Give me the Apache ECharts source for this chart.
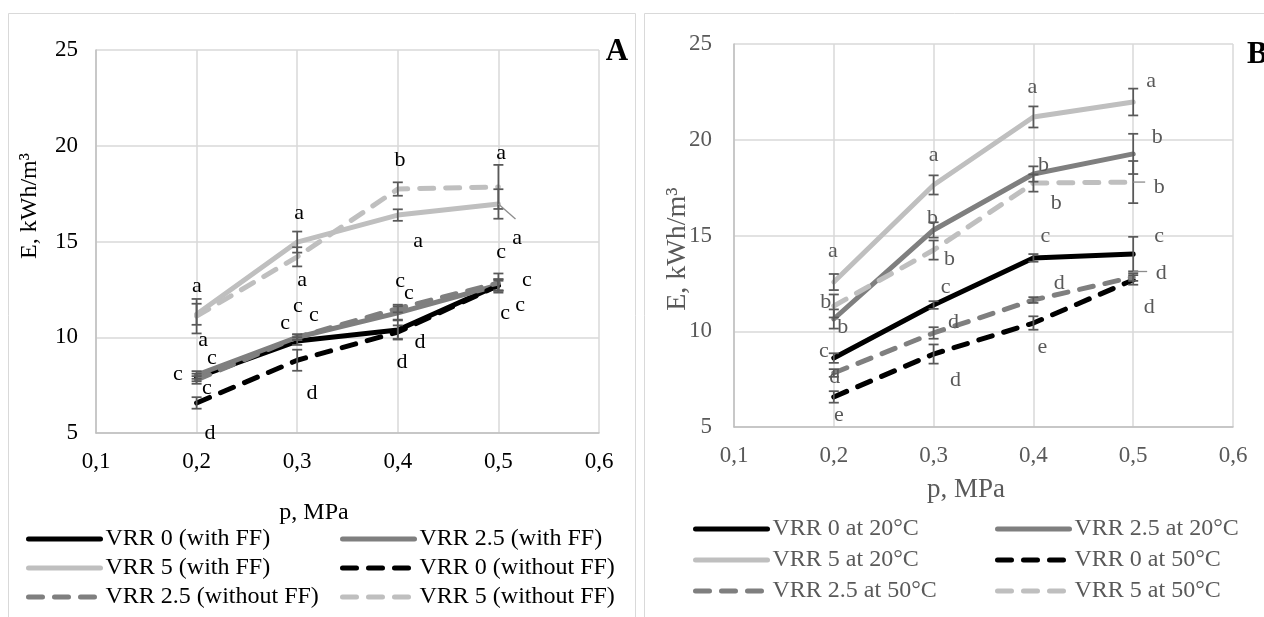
<!DOCTYPE html>
<html><head><meta charset="utf-8">
<script src="https://cdn.jsdelivr.net/npm/echarts@6/dist/echarts.min.js"></script>
<style>html,body{margin:0;padding:0;background:#fff}#c{width:1264px;height:617px}</style>
</head><body><div id="c"></div>
<script>
// ---------- DATA ----------
const pressure = [0.2, 0.3, 0.4, 0.5];
const xTickLabels = ['0,1', '0,2', '0,3', '0,4', '0,5', '0,6'];
const yTickLabels = ['5', '10', '15', '20', '25'];

// Panel A
const A_names = ['VRR 0 (with FF)', 'VRR 2.5 (with FF)', 'VRR 5 (with FF)', 'VRR 0 (without FF)', 'VRR 2.5 (without FF)', 'VRR 5 (without FF)'];
const A_vrr0_ff    = [7.9, 9.8, 10.38, 12.73];
const A_vrr25_ff   = [8.03, 10.0, 11.27, 12.73];
const A_vrr5_ff    = [11.2, 14.97, 16.38, 16.96];
const A_vrr0_noff  = [6.57, 8.8, 10.27, 12.7];
const A_vrr25_noff = [7.77, 10.0, 11.5, 12.83];
const A_vrr5_noff  = [11.1, 14.2, 17.74, 17.85];
const A_err_vrr0_ff    = [0.2, 0.2, 0.5, 0.3];
const A_err_vrr25_ff   = [0.2, 0.15, 0.35, 0.3];
const A_err_vrr5_ff    = [0.55, 0.55, 0.3, 0.77];
const A_err_vrr0_noff  = [0.3, 0.55, 0.35, 0.25];
const A_err_vrr25_noff = [0.2, 0.15, 0.2, 0.5];
const A_err_vrr5_noff  = [0.9, 0.5, 0.35, 1.15];
const A_letters = [
  [0.2004, 12.57, 'a'], [0.2064, 9.75, 'a'], [0.2153, 8.81, 'c'], [0.1815, 7.98, 'c'], [0.2103, 7.25, 'c'], [0.2133, 5.0, 'd'],
  [0.3018, 16.38, 'a'], [0.3048, 12.89, 'a'], [0.2879, 10.64, 'c'], [0.3008, 11.53, 'c'], [0.3167, 11.06, 'c'], [0.3147, 7.09, 'd'],
  [0.4022, 19.26, 'b'], [0.4201, 14.92, 'a'], [0.4022, 12.83, 'c'], [0.4111, 12.21, 'c'], [0.4221, 9.75, 'd'], [0.4042, 8.71, 'd'],
  [0.5026, 19.52, 'a'], [0.5185, 15.08, 'a'], [0.5026, 14.35, 'c'], [0.5284, 12.89, 'c'], [0.5066, 11.16, 'c'], [0.5215, 11.58, 'c']
];
const A_leaders = [[0.5, 16.96, 0.517, 16.17]];

// Panel B
const B_names = ['VRR 0 at 20°C', 'VRR 2.5 at 20°C', 'VRR 5 at 20°C', 'VRR 0 at 50°C', 'VRR 2.5 at 50°C', 'VRR 5 at 50°C'];
const B_vrr0_20  = [8.6, 11.37, 13.83, 14.03];
const B_vrr25_20 = [10.64, 15.29, 18.21, 19.26];
const B_vrr5_20  = [12.57, 17.64, 21.19, 21.97];
const B_vrr0_50  = [6.57, 8.81, 10.43, 12.68];
const B_vrr25_50 = [7.82, 9.91, 11.63, 12.83];
const B_vrr5_50  = [11.32, 14.24, 17.74, 17.79];
const B_err_vrr0_20  = [0.25, 0.2, 0.2, 0.9];
const B_err_vrr25_20 = [0.5, 0.4, 0.4, 1.05];
const B_err_vrr5_20  = [0.42, 0.5, 0.55, 0.7];
const B_err_vrr0_50  = [0.3, 0.5, 0.35, 0.25];
const B_err_vrr25_50 = [0.2, 0.3, 0.15, 0.2];
const B_err_vrr5_50  = [0.6, 0.5, 0.45, 1.1];
const B_letters = [
  [0.399, 22.65, 'a'], [0.518, 22.96, 'a'], [0.300, 19.10, 'a'], [0.524, 20.14, 'b'], [0.410, 18.68, 'b'], [0.526, 17.53, 'b'],
  [0.423, 16.70, 'b'], [0.299, 15.91, 'b'], [0.199, 14.09, 'a'], [0.316, 13.77, 'b'], [0.192, 11.53, 'b'], [0.209, 10.22, 'b'],
  [0.412, 14.87, 'c'], [0.526, 14.87, 'c'], [0.312, 12.21, 'c'], [0.426, 12.52, 'd'], [0.528, 13.04, 'd'], [0.516, 11.27, 'd'],
  [0.320, 10.48, 'd'], [0.190, 8.86, 'c'], [0.201, 7.61, 'd'], [0.322, 7.45, 'd'], [0.409, 9.07, 'e'], [0.205, 5.52, 'e']
];
const B_leaders = [[0.5, 17.79, 0.512, 17.79], [0.5, 13.12, 0.514, 13.12]];

// ---------- STYLE ----------
const FONT = 'Liberation Serif';
const COLORS = ['#000000', '#7f7f7f', '#bfbfbf', '#000000', '#7f7f7f', '#bfbfbf'];
const DASHED = [false, false, false, true, true, true];
const ERR_COLOR = '#595959';

const A_vals = [A_vrr0_ff, A_vrr25_ff, A_vrr5_ff, A_vrr0_noff, A_vrr25_noff, A_vrr5_noff];
const A_errs = [A_err_vrr0_ff, A_err_vrr25_ff, A_err_vrr5_ff, A_err_vrr0_noff, A_err_vrr25_noff, A_err_vrr5_noff];
const B_vals = [B_vrr0_20, B_vrr25_20, B_vrr5_20, B_vrr0_50, B_vrr25_50, B_vrr5_50];
const B_errs = [B_err_vrr0_20, B_err_vrr25_20, B_err_vrr5_20, B_err_vrr0_50, B_err_vrr25_50, B_err_vrr5_50];

function lineSeries(name, vals, i, g) {
  return {
    type: 'line', name: name, xAxisIndex: g, yAxisIndex: g,
    data: pressure.map((p, k) => [p, vals[k]]),
    symbol: 'none', z: 2, animation: false,
    itemStyle: { color: COLORS[i] },
    lineStyle: { color: COLORS[i], width: 5, type: DASHED[i] ? [14, 12] : 'solid', cap: 'round', join: 'round' }
  };
}
function errSeries(vals, errs, g) {
  return {
    type: 'custom', xAxisIndex: g, yAxisIndex: g, z: 3, animation: false, silent: true,
    data: pressure.map((p, k) => [p, vals[k], errs[k]]),
    encode: { x: 0, y: 1 },
    renderItem: function (params, api) {
      const x = api.value(0), y = api.value(1), e = api.value(2);
      const top = api.coord([x, y + e]), bot = api.coord([x, y - e]);
      const st = { stroke: ERR_COLOR, lineWidth: 1.75 };
      const w = 5;
      return { type: 'group', children: [
        { type: 'line', shape: { x1: top[0], y1: top[1], x2: bot[0], y2: bot[1] }, style: st },
        { type: 'line', shape: { x1: top[0] - w, y1: top[1], x2: top[0] + w, y2: top[1] }, style: st },
        { type: 'line', shape: { x1: bot[0] - w, y1: bot[1], x2: bot[0] + w, y2: bot[1] }, style: st }
      ] };
    }
  };
}
function letterSeries(letters, g, color) {
  return {
    type: 'custom', xAxisIndex: g, yAxisIndex: g, z: 5, animation: false, silent: true,
    data: letters.map(l => [l[0], l[1]]),
    encode: { x: 0, y: 1 }, clip: false,
    renderItem: function (params, api) {
      const pt = api.coord([api.value(0), api.value(1)]);
      const t = letters[params.dataIndex][2];
      const dy = ('ace'.indexOf(t) >= 0) ? -2 : 0;
      return { type: 'text', x: pt[0], y: pt[1] + dy,
        style: { text: t, fill: color, font: '22px "' + FONT + '"', align: 'center', verticalAlign: 'middle' } };
    }
  };
}
function leaderSeries(leaders, g) {
  return {
    type: 'custom', xAxisIndex: g, yAxisIndex: g, z: 4, animation: false, silent: true,
    data: leaders, encode: { x: 0, y: 1 }, clip: false,
    renderItem: function (params, api) {
      const a = api.coord([api.value(0), api.value(1)]), b = api.coord([api.value(2), api.value(3)]);
      return { type: 'line', shape: { x1: a[0], y1: a[1], x2: b[0], y2: b[1] }, style: { stroke: '#8c8c8c', lineWidth: 1.3 } };
    }
  };
}
function xAxisCfg(g, color) {
  return {
    type: 'value', gridIndex: g, min: 0.1, max: 0.6, interval: 0.1,
    axisLine: { show: true, onZero: false, lineStyle: { color: '#bfbfbf', width: 1.5 } },
    axisTick: { show: false },
    splitLine: { show: true, lineStyle: { color: '#d9d9d9', width: 1.5 } },
    axisLabel: { fontFamily: FONT, fontSize: 23, color: color, margin: 17,
      formatter: v => xTickLabels[Math.round(v * 10) - 1] }
  };
}
function yAxisCfg(g, color, margin) {
  return {
    type: 'value', gridIndex: g, min: 5, max: 25, interval: 5,
    axisLine: { show: true, lineStyle: { color: '#bfbfbf', width: 1.5 } },
    axisTick: { show: false },
    splitLine: { show: true, lineStyle: { color: '#d9d9d9', width: 1.5 } },
    axisLabel: { fontFamily: FONT, fontSize: 23, color: color, margin: margin,
      formatter: v => yTickLabels[Math.round(v / 5) - 1] }
  };
}
function legendItem(name, left, rowY, color) {
  return {
    data: [name], left: left, top: rowY - 12, orient: 'horizontal', padding: 0, itemGap: 0,
    itemWidth: 72, itemHeight: 14, selectedMode: false,
    textStyle: { fontFamily: FONT, fontSize: 24, color: color },
    itemStyle: { opacity: 0 },
    lineStyle: { width: 5, cap: 'round' }
  };
}

const series = [];
A_names.forEach((n, i) => series.push(lineSeries(n, A_vals[i], i, 0)));
B_names.forEach((n, i) => series.push(lineSeries(n, B_vals[i], i, 1)));
A_vals.forEach((v, i) => series.push(errSeries(v, A_errs[i], 0)));
B_vals.forEach((v, i) => series.push(errSeries(v, B_errs[i], 1)));
series.push(leaderSeries(A_leaders, 0));
series.push(leaderSeries(B_leaders, 1));
series.push(letterSeries(A_letters, 0, '#000000'));
series.push(letterSeries(B_letters, 1, '#595959'));

const A_rows = [539, 568, 597], B_rows = [529, 560, 591];
const legends = [];
A_names.forEach((n, i) => legends.push(legendItem(n, i % 2 === 0 ? 26 : 340, A_rows[Math.floor(i / 2)], '#000000')));
B_names.forEach((n, i) => legends.push(legendItem(n, i % 2 === 0 ? 693 : 995, B_rows[Math.floor(i / 2)], '#595959')));

const option = {
  backgroundColor: '#ffffff',
  animation: false,
  grid: [
    { left: 96, top: 50, width: 503, height: 383 },
    { left: 734, top: 44, width: 499, height: 383 }
  ],
  xAxis: [xAxisCfg(0, '#000000'), xAxisCfg(1, '#595959')],
  yAxis: [yAxisCfg(0, '#000000', 18), yAxisCfg(1, '#595959', 22)],
  legend: legends,
  series: series,
  graphic: [
    { type: 'rect', shape: { x: 8.5, y: 13.5, width: 627, height: 640 }, style: { fill: 'none', stroke: '#d9d9d9', lineWidth: 1 }, silent: true },
    { type: 'rect', shape: { x: 644.5, y: 13.5, width: 640, height: 640 }, style: { fill: 'none', stroke: '#d9d9d9', lineWidth: 1 }, silent: true },
    { type: 'text', x: 617, y: 52, style: { text: 'A', font: 'bold 31px "' + FONT + '"', fill: '#000', align: 'center', verticalAlign: 'middle' } },
    { type: 'text', x: 1247, y: 55, style: { text: 'B', font: 'bold 31px "' + FONT + '"', fill: '#000', align: 'left', verticalAlign: 'middle' } },
    { type: 'text', x: 314, y: 513, style: { text: 'p, MPa', font: '24px "' + FONT + '"', fill: '#000', align: 'center', verticalAlign: 'middle' } },
    { type: 'text', x: 966, y: 490, style: { text: 'p, MPa', font: '27px "' + FONT + '"', fill: '#595959', align: 'center', verticalAlign: 'middle' } },
    { type: 'text', x: 30, y: 206, rotation: Math.PI / 2, style: { text: 'E, kWh/m³', font: '24px "' + FONT + '"', fill: '#000', align: 'center', verticalAlign: 'middle' } },
    { type: 'text', x: 678, y: 249, rotation: Math.PI / 2, style: { text: 'E, kWh/m³', font: '28px "' + FONT + '"', fill: '#595959', align: 'center', verticalAlign: 'middle' } }
  ]
};
const chart = echarts.init(document.getElementById('c'));
chart.setOption(option);
</script>
</body></html>
